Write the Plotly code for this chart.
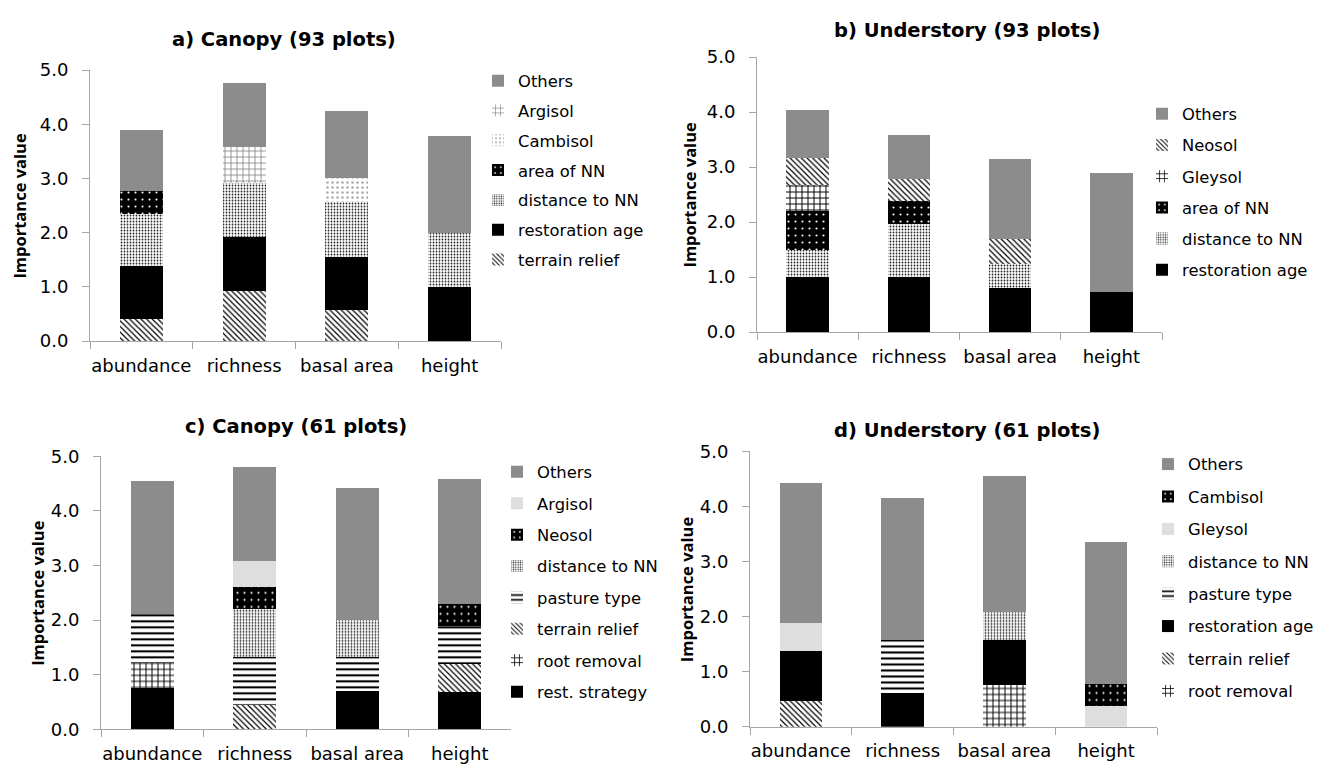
import plotly.graph_objects as go

# Response variables on the x axis
categories = ["abundance", "richness", "basal area", "height"]

# a) Canopy (93 plots) - stacked bottom to top
a_terrain_relief = [0.40, 0.92, 0.57, 0.00]
a_restoration_age = [0.98, 1.00, 0.99, 1.00]
a_distance_to_nn = [0.96, 1.00, 1.00, 0.99]
a_area_of_nn = [0.43, 0.00, 0.00, 0.00]
a_cambisol = [0.00, 0.00, 0.45, 0.00]
a_argisol = [0.00, 0.66, 0.00, 0.00]
a_others = [1.12, 1.18, 1.23, 1.80]

# b) Understory (93 plots)
b_restoration_age = [1.00, 1.00, 0.81, 0.73]
b_distance_to_nn = [0.50, 0.96, 0.43, 0.00]
b_area_of_nn = [0.71, 0.42, 0.00, 0.00]
b_gleysol = [0.47, 0.00, 0.00, 0.00]
b_neosol = [0.48, 0.41, 0.45, 0.00]
b_others = [0.88, 0.79, 1.46, 2.16]

# c) Canopy (61 plots)
c_rest_strategy = [0.75, 0.00, 0.71, 0.68]
c_root_removal = [0.47, 0.00, 0.00, 0.00]
c_terrain_relief = [0.00, 0.45, 0.00, 0.51]
c_pasture_type = [0.89, 0.87, 0.61, 0.70]
c_distance_to_nn = [0.00, 0.89, 0.69, 0.00]
c_neosol = [0.00, 0.40, 0.00, 0.40]
c_argisol = [0.00, 0.48, 0.00, 0.00]
c_others = [2.43, 1.72, 2.41, 2.30]

# d) Understory (61 plots)
d_root_removal = [0.00, 0.00, 0.76, 0.00]
d_terrain_relief = [0.47, 0.00, 0.00, 0.00]
d_restoration_age = [0.91, 0.61, 0.82, 0.00]
d_pasture_type = [0.00, 0.97, 0.00, 0.00]
d_distance_to_nn = [0.00, 0.00, 0.50, 0.00]
d_gleysol = [0.51, 0.00, 0.00, 0.37]
d_cambisol = [0.00, 0.00, 0.00, 0.40]
d_others = [2.53, 2.57, 2.48, 2.58]

panel_titles = ["a) Canopy (93 plots)", "b) Understory (93 plots)",
                "c) Canopy (61 plots)", "d) Understory (61 plots)"]
y_title = "Importance value"

FONT = "DejaVu Sans"
YT_FONT = "Open Sans"
AXIS_GREY = "#a6a6a6"

# fill styles (Excel-like hatches)
STYLES = {
    "black": dict(color="black"),
    "others": dict(color="#8c8c8c"),
    "light": dict(color="#dedede"),
    "diag": dict(color="white", pattern=dict(shape="\\", fgcolor="black", bgcolor="white",
                                             size=4, solidity=0.3)),
    "stipple": dict(color="white", pattern=dict(shape=".", fgcolor="#222222", bgcolor="white",
                                                size=3, solidity=0.28)),
    "dots_on_black": dict(color="black", pattern=dict(shape=".", fgcolor="white", bgcolor="black",
                                                      size=7, solidity=0.07)),
    "sparse_dots": dict(color="white", pattern=dict(shape=".", fgcolor="#a8a8a8", bgcolor="white",
                                                    size=5, solidity=0.2)),
    "grid_grey": dict(color="white", pattern=dict(shape="+", fgcolor="#808080", bgcolor="white",
                                                  size=6, solidity=0.25)),
    "grid_black": dict(color="white", pattern=dict(shape="+", fgcolor="black", bgcolor="white",
                                                   size=6, solidity=0.3)),
    "hlines": dict(color="white", pattern=dict(shape="-", fgcolor="black", bgcolor="white",
                                               size=6, solidity=0.35)),
}

panels = [
    [("terrain relief", a_terrain_relief, "diag"),
     ("restoration age", a_restoration_age, "black"),
     ("distance to NN", a_distance_to_nn, "stipple"),
     ("area of NN", a_area_of_nn, "dots_on_black"),
     ("Cambisol", a_cambisol, "sparse_dots"),
     ("Argisol", a_argisol, "grid_grey"),
     ("Others", a_others, "others")],
    [("restoration age", b_restoration_age, "black"),
     ("distance to NN", b_distance_to_nn, "stipple"),
     ("area of NN", b_area_of_nn, "dots_on_black"),
     ("Gleysol", b_gleysol, "grid_black"),
     ("Neosol", b_neosol, "diag"),
     ("Others", b_others, "others")],
    [("rest. strategy", c_rest_strategy, "black"),
     ("root removal", c_root_removal, "grid_black"),
     ("terrain relief", c_terrain_relief, "diag"),
     ("pasture type", c_pasture_type, "hlines"),
     ("distance to NN", c_distance_to_nn, "stipple"),
     ("Neosol", c_neosol, "dots_on_black"),
     ("Argisol", c_argisol, "light"),
     ("Others", c_others, "others")],
    [("root removal", d_root_removal, "grid_black"),
     ("terrain relief", d_terrain_relief, "diag"),
     ("restoration age", d_restoration_age, "black"),
     ("pasture type", d_pasture_type, "hlines"),
     ("distance to NN", d_distance_to_nn, "stipple"),
     ("Gleysol", d_gleysol, "light"),
     ("Cambisol", d_cambisol, "dots_on_black"),
     ("Others", d_others, "others")],
]

W, H = 1331, 778

# plot areas in pixels: (left, right, y of 0.0, y of 5.0)
boxes = [(90, 501, 339.3, 60.7), (757, 1162, 330.0, 47.3),
         (101, 511, 738.3, 457.7), (750, 1157, 735.7, 452.7)]
title_pos = [(284, 29), (967, 20), (296, 427), (967, 431)]
ytitle_x = [20, 690, 38, 686]
# legend: (text left x, first item centre y, item pitch)
legend_pos = [(518, 71, 29.8), (1182, 105, 31.2), (537, 473, 31.4), (1188, 465, 32.4)]
LEG_FS = 16.4

fig = go.Figure()
for p, series in enumerate(panels):
    sfx = "" if p == 0 else str(p + 1)
    n = len(series)
    for k, (name, vals, style) in enumerate(series):
        st = STYLES[style]
        marker = dict(color=st["color"], line=dict(width=0))
        if "pattern" in st:
            marker["pattern"] = dict(fillmode="replace", **st["pattern"])
        fig.add_trace(go.Bar(
            x=categories, y=vals, name=name, marker=marker,
            xaxis="x" + sfx, yaxis="y" + sfx,
            legend="legend" + sfx, legendgroup=f"p{p}_{k}", legendrank=100 + n - k,
            hovertemplate=f"{name}: %{{y:.2f}}<extra></extra>",
        ))

layout = dict(
    width=W, height=H, autosize=False,
    margin=dict(l=0, r=0, t=0, b=0),
    paper_bgcolor="white", plot_bgcolor="white",
    barmode="stack", bargap=0.58,
    font=dict(family=FONT, color="black"),
    showlegend=True,
)

annotations = []
for p, (x0, x1, y0, y5) in enumerate(boxes):
    sfx = "" if p == 0 else str(p + 1)
    layout["xaxis" + sfx] = dict(
        domain=[x0 / W, x1 / W], anchor="y" + sfx,
        type="category", range=[-0.5, 3.5], tickangle=0,
        showline=True, linecolor=AXIS_GREY, linewidth=1,
        ticks="outside", tickson="boundaries", ticklen=7, tickcolor=AXIS_GREY,
        showgrid=False, zeroline=False,
        tickfont=dict(size=18, family=FONT), ticklabelstandoff=8,
    )
    layout["yaxis" + sfx] = dict(
        domain=[1 - y0 / H, 1 - y5 / H], anchor="x" + sfx,
        range=[0, 5], dtick=1, tickformat=".1f",
        showline=True, linecolor=AXIS_GREY, linewidth=1,
        ticks="outside", ticklen=7, tickcolor=AXIS_GREY,
        showgrid=False, zeroline=False,
        tickfont=dict(size=18, family=FONT), ticklabelstandoff=10,
    )
    tx_left, first_y, pitch = legend_pos[p]
    gap = pitch - (1.3 * LEG_FS + 3)
    layout["legend" + sfx] = dict(
        x=(tx_left - 40) / W, y=1 - (first_y - 17) / H, xanchor="left", yanchor="top",
        traceorder="grouped", tracegroupgap=gap,
        font=dict(size=LEG_FS, family=FONT), bgcolor="rgba(0,0,0,0)",
        borderwidth=0, itemwidth=30,
    )
    tx, ty = title_pos[p]
    annotations.append(dict(
        text=panel_titles[p], x=tx / W, y=1 - ty / H, xref="paper", yref="paper",
        xanchor="center", yanchor="middle", showarrow=False,
        font=dict(size=19.5, family=FONT, weight="bold"),
    ))
    annotations.append(dict(
        text=y_title, x=ytitle_x[p] / W, y=1 - (y0 + y5) / 2 / H, xref="paper", yref="paper",
        xanchor="center", yanchor="middle", showarrow=False, textangle=-90,
        font=dict(size=16.5, family=YT_FONT, weight="bold"),
    ))
layout["annotations"] = annotations

fig.update_layout(**layout)
fig.write_html("out.html")
